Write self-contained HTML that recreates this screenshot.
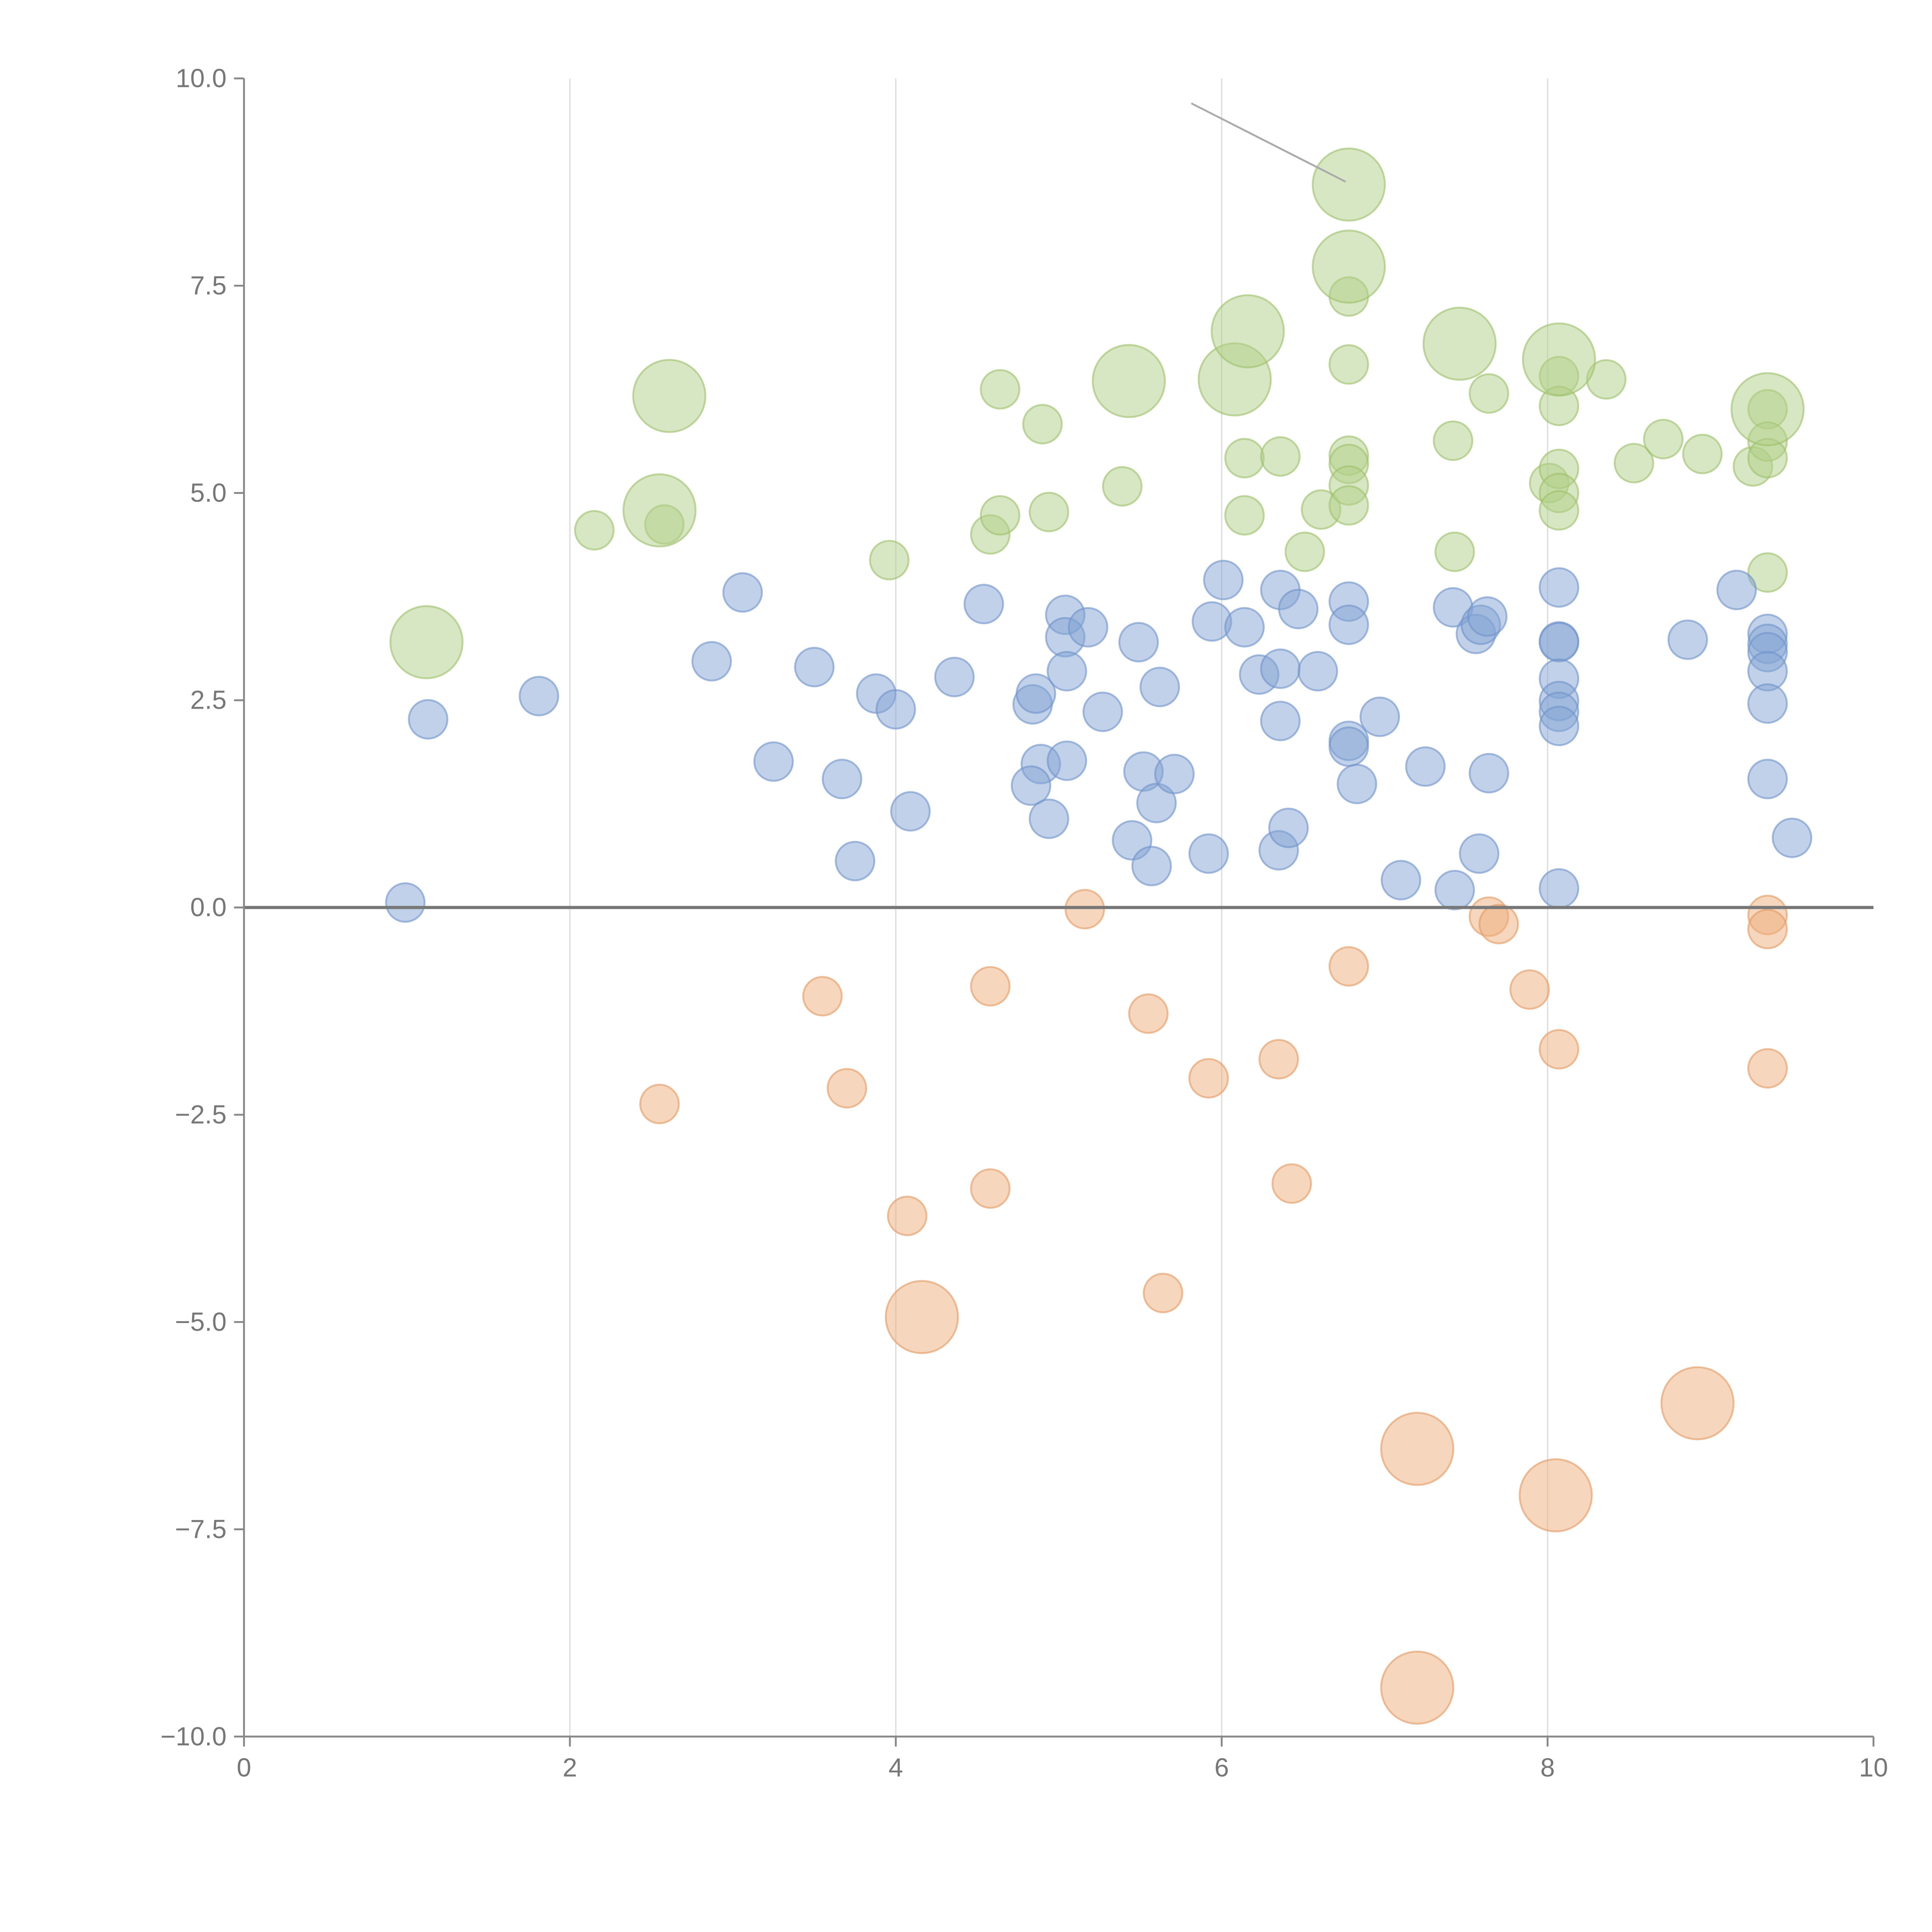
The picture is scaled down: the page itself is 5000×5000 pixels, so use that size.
<!DOCTYPE html>
<html><head><meta charset="utf-8"><style>html,body{margin:0;padding:0;background:#fff}svg{display:block}</style></head>
<body>
<svg id="chart" width="5000" height="5000" viewBox="0 0 1552 1552" xmlns="http://www.w3.org/2000/svg" font-family="Liberation Sans, sans-serif">
<g id="grid"></g>
<g id="marks"></g>
<g id="axes"></g>
</svg>
<script>
const xTicks=[0,2,4,6,8,10];
const yTicks=[-10,-7.5,-5,-2.5,0,2.5,5,7.5,10];
const blueX=[0.99,1.13,1.81,2.87,3.06,3.25,3.50,3.67,3.75,3.88,4.00,4.09,4.36,4.54,4.84,4.86,4.89,4.83,4.94,5.04,5.04,5.05,5.05,5.18,5.27,5.45,5.49,5.52,5.57,5.60,5.62,5.71,5.92,5.94,6.01,6.14,6.23,6.36,6.36,6.36,6.35,6.41,6.47,6.59,6.78,6.78,6.78,6.78,6.83,6.97,7.10,7.25,7.42,7.43,7.56,7.59,7.63,7.58,7.64,8.07,8.07,8.07,8.07,8.07,8.07,8.07,8.07,8.86,9.16,9.35,9.35,9.35,9.35,9.35,9.35,9.50];
const blueY=[0.06,2.27,2.55,2.97,3.80,1.76,2.90,1.55,0.56,2.58,2.39,1.16,2.78,3.66,2.45,2.58,1.73,1.47,1.07,3.53,3.26,2.85,1.77,3.38,2.36,0.81,3.20,1.64,0.50,1.26,2.66,1.61,0.65,3.45,3.95,3.38,2.81,3.83,2.88,2.25,0.69,0.96,3.60,2.85,3.69,3.41,2.01,1.94,1.49,2.30,0.33,1.70,3.62,0.21,3.30,3.41,3.51,0.65,1.62,3.86,3.21,3.20,2.76,2.49,2.36,2.19,0.23,3.23,3.83,3.30,3.18,3.08,2.85,2.46,1.55,0.84];
const greenX=[2.15,2.58,3.96,4.58,4.64,4.64,4.90,4.94,5.39,6.14,6.14,6.36,6.51,6.61,6.78,6.78,6.78,6.78,6.78,6.78,7.42,7.43,7.64,8.01,8.07,8.07,8.07,8.07,8.07,8.36,8.53,8.71,8.95,9.26,9.35,9.35,9.35,9.35,1.12,2.55,2.61,5.43,6.08,6.16,6.78,6.78,7.46,8.07,9.35];
const greenY=[4.55,4.62,4.19,4.50,4.73,6.25,5.83,4.77,5.08,5.42,4.73,5.44,4.29,4.80,7.37,6.55,5.45,5.35,5.09,4.85,5.63,4.29,6.20,5.12,6.41,6.05,5.29,5.00,4.79,6.37,5.36,5.65,5.47,5.32,6.01,5.62,5.42,4.04,3.20,4.79,6.17,6.35,6.37,6.95,8.72,7.73,6.80,6.61,6.01];
const greenSize=[1,1,1,1,1,1,1,1,1,1,1,1,1,1,1,1,1,1,1,1,1,1,1,1,1,1,1,1,1,1,1,1,1,1,1,1,1,1,2,2,2,2,2,2,2,2,2,2,2];
const orangeX=[5.16,3.55,2.55,3.70,4.07,4.58,4.58,5.55,5.64,5.92,6.35,6.43,6.78,7.64,7.70,7.89,8.07,9.35,9.35,9.35,4.16,7.20,8.05,8.92,7.20];
const orangeY=[-0.02,-1.07,-2.37,-2.18,-3.72,-0.95,-3.39,-1.28,-4.65,-2.06,-1.83,-3.33,-0.71,-0.11,-0.20,-0.99,-1.71,-0.09,-0.26,-1.94,-4.94,-6.53,-7.09,-5.98,-9.41];
const orangeSize=[1,1,1,1,1,1,1,1,1,1,1,1,1,1,1,1,1,1,1,1,2,2,2,2,2];

const NS="http://www.w3.org/2000/svg";
const X0=196,X1=1505,Y0=1395,Y1=63;
const sx=v=>X0+(v-0)/(10-0)*(X1-X0);
const sy=v=>Y0-(v+10)/20*(Y0-Y1);
function mk(tag,attrs,parent){const e=document.createElementNS(NS,tag);for(const k in attrs)e.setAttribute(k,attrs[k]);parent.appendChild(e);return e;}
const grid=document.getElementById('grid'),marks=document.getElementById('marks'),axes=document.getElementById('axes');
xTicks.forEach(t=>{if(t>0&&t<10){const l=mk('line',{x1:sx(t),x2:sx(t),y1:Y1,y2:Y0,stroke:'#dcdcdc','stroke-width':1},grid);

}});
function series(xs,ys,sz,fill,stroke,name){xs.forEach((x,i)=>{const r=sz&&sz[i]===2?29:15.5;
const c=mk('circle',{cx:sx(x),cy:sy(ys[i]),r:r,fill:fill,'fill-opacity':0.5,stroke:stroke,'stroke-opacity':0.6,'stroke-width':1.5},marks);

});}
series(greenX,greenY,greenSize,'#b2cf87','#9cbf6a','green-bubble');
series(blueX,blueY,null,'#82a3d3','#6f93c9','blue-bubble');
series(orangeX,orangeY,orangeSize,'#eeae7c','#e39a62','orange-bubble');
const ann=mk('line',{x1:957,y1:83,x2:1081,y2:146,stroke:'#aaa','stroke-width':1.5},marks);


const zl=mk('line',{x1:X0,x2:X1,y1:sy(0),y2:sy(0),stroke:'#777','stroke-width':2.5},axes);


const ya=mk('line',{x1:X0,x2:X0,y1:Y1,y2:Y0,stroke:'#888','stroke-width':1.5},axes);


const xa=mk('line',{x1:X0,x2:X1,y1:Y0,y2:Y0,stroke:'#888','stroke-width':1.5},axes);


xTicks.forEach(t=>{const tk=mk('line',{x1:sx(t),x2:sx(t),y1:Y0,y2:Y0+8,stroke:'#888','stroke-width':1.5},axes);


const tx=mk('text',{x:sx(t),y:Y0+32,'text-anchor':'middle','font-size':21,fill:'#777'},axes);tx.textContent=String(t);

});
yTicks.forEach(t=>{const tk=mk('line',{x1:X0-8,x2:X0,y1:sy(t),y2:sy(t),stroke:'#888','stroke-width':1.5},axes);


const tx=mk('text',{x:X0-14,y:sy(t)+7,'text-anchor':'end','font-size':21,fill:'#777'},axes);tx.textContent=t.toFixed(1).replace('-','\u2212');

});
</script>
</body></html>
